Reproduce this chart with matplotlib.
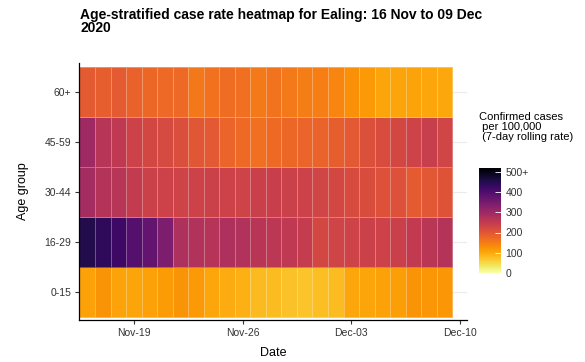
import matplotlib
matplotlib.use("Agg")
import matplotlib.pyplot as plt
import numpy as np
from matplotlib.colors import Normalize
from matplotlib import cm

plt.rcParams['font.family'] = ['Liberation Sans', 'DejaVu Sans']

dates = ["Nov-16", "Nov-17", "Nov-18", "Nov-19", "Nov-20", "Nov-21", "Nov-22", "Nov-23",
         "Nov-24", "Nov-25", "Nov-26", "Nov-27", "Nov-28", "Nov-29", "Nov-30", "Dec-01",
         "Dec-02", "Dec-03", "Dec-04", "Dec-05", "Dec-06", "Dec-07", "Dec-08", "Dec-09"]
age_groups = ["0-15", "16-29", "30-44", "45-59", "60+"]

rate_0_15 = [109, 123, 107, 104, 109, 114, 123, 116, 102, 97, 92, 83,
             81, 75, 73, 79, 80, 102, 104, 108, 111, 123, 120, 118]
rate_16_29 = [452, 437, 421, 390, 374, 343, 280, 273, 268, 278, 274, 263,
              258, 254, 246, 225, 231, 233, 237, 235, 239, 250, 262, 270]
rate_30_44 = [292, 270, 265, 248, 237, 234, 232, 234, 237, 234, 232, 239,
              241, 237, 234, 228, 224, 218, 216, 208, 209, 194, 198, 206]
rate_45_59 = [298, 266, 254, 235, 225, 220, 212, 201, 196, 179, 173, 166,
              172, 175, 179, 182, 187, 195, 210, 216, 224, 232, 243, 229]
rate_60p = [194, 188, 194, 183, 175, 173, 173, 156, 164, 170, 166, 154,
            161, 154, 150, 147, 139, 127, 116, 104, 105, 106, 102, 101]

tick_days = [3, 10, 17, 24]
tick_labels = ["Nov-19", "Nov-26", "Dec-03", "Dec-10"]
cbar_ticks = [0, 100, 200, 300, 400, 500]
cbar_labels = ["0", "100", "200", "300", "400", "500+"]

data = np.array([rate_0_15, rate_16_29, rate_30_44, rate_45_59, rate_60p], dtype=float)
cmap = matplotlib.colormaps['inferno_r']
norm = Normalize(vmin=0, vmax=520)

fig = plt.figure(figsize=(5.85, 3.62), dpi=100)
ax = fig.add_axes([78.7/585, 1-320/362, (467-78.7)/585, (320-62.7)/362])

x = np.arange(len(dates) + 1) - 0.5
y = np.arange(len(age_groups) + 1) - 0.5
for yi in range(len(age_groups)):
    ax.axhline(yi, color='#ebebeb', lw=0.8, zorder=0)
mesh = ax.pcolormesh(x, y, data, cmap=cmap, norm=norm,
                     edgecolors=(1, 1, 1, 0.3), linewidth=0.5, zorder=1)

ax.set_xlim(-0.55, 24.45)
ax.set_ylim(-0.55, 4.59)
ax.set_xticks(tick_days)
ax.set_xticklabels(tick_labels)
ax.set_yticks(range(len(age_groups)))
ax.set_yticklabels(age_groups)
ax.tick_params(axis='both', labelsize=7.5, length=3, width=0.8, color='#333333',
               labelcolor='#333333', pad=2.5)
for s in ['top', 'right']:
    ax.spines[s].set_visible(False)
for s in ['left', 'bottom']:
    ax.spines[s].set_linewidth(0.9)
    ax.spines[s].set_color('black')
ax.set_xlabel("Date", fontsize=9, labelpad=7)
ax.set_ylabel("Age group", fontsize=9, labelpad=11)

fig.text(80/585, 1-8/362, "Age-stratified case rate heatmap for Ealing: 16 Nov to 09 Dec\n2020",
         fontsize=10, fontweight='bold', va='top', ha='left', linespacing=0.9)

cax = fig.add_axes([479.3/585, 1-273/362, 22/585, 105.3/362])
cb = fig.colorbar(cm.ScalarMappable(norm=norm, cmap=cmap), cax=cax)
cb.outline.set_visible(False)
cb.set_ticks(cbar_ticks)
cb.set_ticklabels(cbar_labels)
cax.tick_params(axis='y', direction='in', length=4, width=0.6, color='white',
                labelsize=7.5, labelcolor='#333333', pad=3)
fig.text(479/585, 1-112/362, "Confirmed cases\n per 100,000\n (7-day rolling rate)",
         fontsize=8, va='top', ha='left', linespacing=1.0)

fig.savefig("out.png", dpi=100)
